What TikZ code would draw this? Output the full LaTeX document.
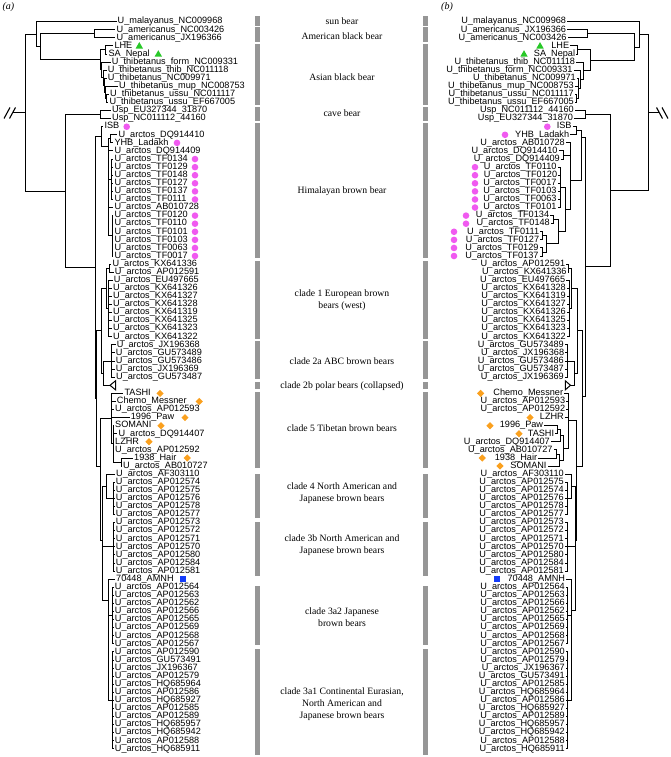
\documentclass[tikz,border=0pt]{standalone}
\usepackage{fontspec}
\setmainfont{Liberation Serif}
\newfontfamily\labfont{Liberation Sans}
\usetikzlibrary{shapes.geometric}
\definecolor{bargray}{RGB}{150,150,150}
\definecolor{dotpink}{RGB}{240,90,240}
\definecolor{trigreen}{RGB}{40,200,40}
\definecolor{diaorange}{RGB}{250,160,30}
\definecolor{sqblue}{RGB}{20,60,250}
\begin{document}
\begin{tikzpicture}[x=1pt,y=-1pt,
  lab/.style={font=\labfont\fontsize{9.15}{10}\selectfont, inner xsep=1pt, inner ysep=0pt, text height=6.4pt, text depth=1.9pt},
  edge/.style={line width=1pt, line join=miter},
  midlab/.style={font=\fontsize{9.7}{11.7}\selectfont, align=center, inner sep=0pt},
  dotm/.style={circle, fill=dotpink, minimum size=6.6pt, inner sep=0pt, draw=none},
  trim/.style={regular polygon, regular polygon sides=3, fill=trigreen, minimum size=8.6pt, inner sep=0pt, draw=none},
  diam/.style={diamond, fill=diaorange, minimum width=7.4pt, minimum height=7.4pt, inner sep=0pt, draw=none},
  sqm/.style={rectangle, fill=sqblue, minimum size=6.2pt, inner sep=0pt, draw=none},
  bar/.style={fill=bargray, draw=none}]
\useasboundingbox (0,0) rectangle (671,757);

% panel letters
\node[font=\fontsize{10}{12}\selectfont\itshape, inner sep=0pt] (pa) at (8.5,7.5) {(a)};
\node[font=\fontsize{10}{12}\selectfont\itshape, inner sep=0pt] (pb) at (447,7.5) {(b)};

% ---------------- left leaves ----------------
\foreach \n/\s/\x/\t in {
a1/1/117.5/U\_malayanus\_NC009968, a2/2/116.3/U\_americanus\_NC003426, a3/3/116.3/U\_americanus\_JX196366,
a4/4/114.3/LHE, a5/5/108.3/SA\_Nepal, a6/6/111.7/U\_thibetanus\_form\_NC009331,
a7/7/107.7/U\_thibetanus\_thib\_NC011118, a8/8/107.7/U\_thibetanus\_NC009971, a9/9/119/U\_thibetanus\_mup\_NC008753,
a10/10/110/U\_thibetanus\_ussu\_NC011117, a11/11/109.3/U\_thibetanus\_ussu\_EF667005,
a12/12/112/Usp\_EU327344\_31870, a13/13/112/Usp\_NC011112\_44160,
a14/14/104.3/ISB, a15/15/118.3/U\_arctos\_DQ914410, a16/16/114.3/YHB\_Ladakh, a17/17/114.3/U\_arctos\_DQ914409,
a18/18/114.3/U\_arctos\_TF0134, a19/19/114.3/U\_arctos\_TF0129, a20/20/114.3/U\_arctos\_TF0148,
a21/21/114.3/U\_arctos\_TF0127, a22/22/114.3/U\_arctos\_TF0137, a23/23/114.3/U\_arctos\_TF0111,
a24/24/114.3/U\_arctos\_AB010728, a25/25/114.3/U\_arctos\_TF0120, a26/26/114.3/U\_arctos\_TF0110,
a27/27/114.3/U\_arctos\_TF0101, a28/28/114.3/U\_arctos\_TF0103, a29/29/114.3/U\_arctos\_TF0063,
a30/30/114.3/U\_arctos\_TF0017, a31/31/112.3/U\_arctos\_KX641336, a32/32/114.7/U\_arctos\_AP012591,
a33/33/113.7/U\_arctos\_EU497665, a34/34/113/U\_arctos\_KX641326, a35/35/113/U\_arctos\_KX641327,
a36/36/113/U\_arctos\_KX641328, a37/37/113/U\_arctos\_KX641319, a38/38/113/U\_arctos\_KX641325,
a39/39/113/U\_arctos\_KX641323, a40/40/113/U\_arctos\_KX641322, a41/41/116.7/U\_arctos\_JX196368,
a42/42/115.7/U\_arctos\_GU573489, a43/43/115.7/U\_arctos\_GU573486, a44/44/115.7/U\_arctos\_JX196369,
a45/45/116/U\_arctos\_GU573487, a47/47/124.3/TASHI, a48/48/116.7/Chemo\_Messner,
a49/49/115/U\_arctos\_AP012593, a50/50/130.7/1996\_Paw, a51/51/115/SOMANI,
a52/52/118.3/U\_arctos\_DQ914407, a53/53/115/LZHR, a54/54/115/U\_arctos\_AP012592,
a55/55/134/1938\_Hair, a56/56/123/U\_arctos\_AB010727, a57/57/116/U\_arctos\_AF303110,
a58/58/115.7/U\_arctos\_AP012574, a59/59/115.7/U\_arctos\_AP012575, a60/60/115.7/U\_arctos\_AP012576,
a61/61/115.7/U\_arctos\_AP012578, a62/62/115.7/U\_arctos\_AP012577, a63/63/115.7/U\_arctos\_AP012573,
a64/64/115.7/U\_arctos\_AP012572, a65/65/115.7/U\_arctos\_AP012571, a66/66/115.7/U\_arctos\_AP012570,
a67/67/115.7/U\_arctos\_AP012580, a68/68/115.7/U\_arctos\_AP012584, a69/69/115.7/U\_arctos\_AP012581,
a70/70/116/70448\_AMNH, a71/71/114.7/U\_arctos\_AP012564, a72/72/114.7/U\_arctos\_AP012563,
a73/73/114.7/U\_arctos\_AP012562, a74/74/114.7/U\_arctos\_AP012566, a75/75/114.7/U\_arctos\_AP012565,
a76/76/114.7/U\_arctos\_AP012569, a77/77/114.7/U\_arctos\_AP012568, a78/78/114.7/U\_arctos\_AP012567,
a79/79/114.7/U\_arctos\_AP012590, a80/80/114.7/U\_arctos\_GU573491, a81/81/114.7/U\_arctos\_JX196367,
a82/82/114.7/U\_arctos\_AP012579, a83/83/114.7/U\_arctos\_HQ685964, a84/84/114.7/U\_arctos\_AP012586,
a85/85/114.7/U\_arctos\_HQ685927, a86/86/114.7/U\_arctos\_AP012585, a87/87/114.7/U\_arctos\_AP012589,
a88/88/114.7/U\_arctos\_HQ685957, a89/89/114.7/U\_arctos\_HQ685942, a90/90/114.7/U\_arctos\_AP012588,
a91/91/114.7/U\_arctos\_HQ685911}
  \node[lab, anchor=west] (\n) at ({\x-1},{21.7+8.08*(\s-1)}) {\t};

% ---------------- right leaves ----------------
\foreach \n/\s/\x/\t in {
b1/1/566.3/U\_malayanus\_NC009968, b2/2/566.3/U\_americanus\_JX196366, b3/3/566.7/U\_americanus\_NC003426,
b4/4/569.3/LHE, b5/5/575.3/SA\_Nepal, b6/6/575.3/U\_thibetanus\_thib\_NC011118,
b7/7/572.7/U\_thibetanus\_form\_NC009331, b8/8/576/U\_thibetanus\_NC009971, b9/9/574/U\_thibetanus\_mup\_NC008753,
b10/10/574/U\_thibetanus\_ussu\_NC011117, b11/11/574/U\_thibetanus\_ussu\_EF667005,
b12/12/574/Usp\_NC011112\_44160, b13/13/573.3/Usp\_EU327344\_31870,
b14/14/571.7/ISB, b15/15/569.3/YHB\_Ladakh, b16/16/565/U\_arctos\_AB010728,
b17/17/557.7/U\_arctos\_DQ914410, b18/18/560/U\_arctos\_DQ914409, b19/19/556.7/U\_arctos\_TF0110,
b20/20/557.3/U\_arctos\_TF0120, b21/21/556.7/U\_arctos\_TF0017, b22/22/556.7/U\_arctos\_TF0103,
b23/23/556.7/U\_arctos\_TF0063, b24/24/556.7/U\_arctos\_TF0101, b25/25/549.3/U\_arctos\_TF0134,
b26/26/550/U\_arctos\_TF0148, b27/27/539.3/U\_arctos\_TF0111, b28/28/539.3/U\_arctos\_TF0127,
b29/29/538.7/U\_arctos\_TF0129, b30/30/538.7/U\_arctos\_TF0137, b31/31/565.3/U\_arctos\_AP012591,
b32/32/566.7/U\_arctos\_KX641336, b33/33/565.3/U\_arctos\_EU497665, b34/34/566/U\_arctos\_KX641328,
b35/35/566/U\_arctos\_KX641319, b36/36/566/U\_arctos\_KX641327, b37/37/566/U\_arctos\_KX641326,
b38/38/566/U\_arctos\_KX641325, b39/39/566/U\_arctos\_KX641323, b40/40/566/U\_arctos\_KX641322,
b41/41/564/U\_arctos\_GU573489, b42/42/564.3/U\_arctos\_JX196368, b43/43/564/U\_arctos\_GU573486,
b44/44/564/U\_arctos\_GU573487, b45/45/564/U\_arctos\_JX196369, b47/47/563.3/Chemo\_Messner,
b48/48/565.3/U\_arctos\_AP012593, b49/49/565.3/U\_arctos\_AP012592, b50/50/564/LZHR,
b51/51/543.3/1996\_Paw, b52/52/554.3/TASHI, b53/53/550/U\_arctos\_DQ914407,
b54/54/552.7/U\_arctos\_AB010727, b55/55/537.3/1938\_Hair, b56/56/546.7/SOMANI,
b57/57/564/U\_arctos\_AF303110, b58/58/564/U\_arctos\_AP012575, b59/59/564/U\_arctos\_AP012574,
b60/60/564/U\_arctos\_AP012576, b61/61/564/U\_arctos\_AP012578, b62/62/564/U\_arctos\_AP012577,
b63/63/564/U\_arctos\_AP012573, b64/64/564/U\_arctos\_AP012572, b65/65/564/U\_arctos\_AP012571,
b66/66/564/U\_arctos\_AP012570, b67/67/564/U\_arctos\_AP012580, b68/68/564/U\_arctos\_AP012584,
b69/69/564/U\_arctos\_AP012581, b70/70/565.3/70448\_AMNH, b71/71/565/U\_arctos\_AP012564,
b72/72/565/U\_arctos\_AP012563, b73/73/565/U\_arctos\_AP012566, b74/74/565/U\_arctos\_AP012562,
b75/75/565/U\_arctos\_AP012565, b76/76/565/U\_arctos\_AP012569, b77/77/565/U\_arctos\_AP012568,
b78/78/565/U\_arctos\_AP012567, b79/79/565/U\_arctos\_AP012590, b80/80/565/U\_arctos\_AP012579,
b81/81/565/U\_arctos\_JX196367, b82/82/565/U\_arctos\_GU573491, b83/83/565/U\_arctos\_AP012585,
b84/84/565/U\_arctos\_HQ685964, b85/85/565/U\_arctos\_AP012586, b86/86/565/U\_arctos\_HQ685927,
b87/87/565/U\_arctos\_AP012589, b88/88/565/U\_arctos\_HQ685957, b89/89/565/U\_arctos\_HQ685942,
b90/90/565/U\_arctos\_AP012588, b91/91/565/U\_arctos\_HQ685911}
  \node[lab, anchor=east] (\n) at ({\x+1},{21.7+8.08*(\s-1)}) {\t};

% ---------------- left internal nodes ----------------
\foreach \n/\x/\y in {LR/25/112.75, LA/36/34.3, LB/40.7/46.9, LAm/94.3/33.8, LAs/100/60,
  LLN/105.3/50, LT/101.5/69.9, LT2/103/77.8, LT3/104/85.3, LT4/105.5/92.4, LT5/106.5/98.45,
  LC/65/191.2, LUsp/100/114.65, LD/95/267.7, LH1/101/136.6, LH2/108/146.5, Lh3/110.5/138.85,
  Lh5/111.5/179.3, Lh6/112/235.8, LE/96.7/398.8, Lc12/101.7/330.8, Lc1/106.5/288.4,
  Lc1a/109.3/268.2, Lc1b/108.3/308.6, Lc2/103/373.2, Lc2a/111/361.1, Ltri/110/385.3,
  LG/100/466.7, Lc5/111/418.6, Lc5b/113/443.9, Lh38/121/462.1, Lc43a/102.5/540,
  Lc4/106/486.3, Lc4b/113/498.5, Lc3b/113/546.9, Lc3a/108.3/600, Lc3a2/112/615.6, Lc3a1/112/700.5}
  \coordinate (\n) at (\x,\y);

% ---------------- right internal nodes ----------------
\foreach \n/\x/\y in {RR/648/112.6, RA/639/34.4, RB/634/47.1, RAm/587/33.8, RAs/590/60.35,
  RLN/577/50, RT/583.3/70.7, RT2/580/79.3, RT3/578/88.4, RT4/576.5/98.5,
  RC/610/190.6, RUsp/585/114.65, RD/585/266.7, RHim/581.5/137, Rhi1/576/130.75,
  Rhi2/570/180, Rhi3/563/155.05, Rhi4/565/209.6, Rhi5/560/187.4, Rhi6/553/219.65,
  Rhi7/542.5/235.85, Rhi8/542/252, Rhi9/546/243.9, Rhi10/558/231.8,
  RE/582.5/396.5, Rc12/577/330.8, Rc1/571/288.4, Rc1a/568.5/268.2, Rc1b/569/308.6,
  Rc2/574/373.2, Rc2a/567/361.1, Rtri/570.5/385.3, RG/576/466.7, Rc5/568.5/420,
  Rp1/557/429.75, Rp2/560/435.8, Rp3/556/454.05, Rp4/559/460.1, Rp5/563.5/448,
  Rc43a/575/540, Rc4/571/486.3, Rc4b/567/498.5, Rc3b/567.5/546.9, Rc3a/571.5/610,
  Rc3a2/567.5/615.6, Rc3a1/567.5/700.5}
  \coordinate (\n) at (\x,\y);

% ---------------- left internal edges ----------------
\foreach \p/\c in {LR/LA, LR/LC, LA/LB, LB/LAm, LB/LAs, LAs/LLN, LAs/LT, LT/LT2, LT2/LT3,
  LT3/LT4, LT4/LT5, LC/LUsp, LC/LD, LD/LH1, LD/LE, LH1/LH2, LH2/Lh3, LH2/Lh5, LH2/Lh6,
  LE/Lc12, LE/LG, Lc12/Lc1, Lc12/Lc2, Lc1/Lc1a, Lc1/Lc1b, Lc2/Lc2a, Lc2/Ltri, LG/Lc5,
  LG/Lc43a, Lc5/Lc5b, Lc5b/Lh38, Lc43a/Lc4, Lc43a/Lc3b, Lc43a/Lc3a, Lc4/Lc4b,
  Lc3a/Lc3a2, Lc3a/Lc3a1}
  \draw[edge] (\p) |- (\c);

% ---------------- left leaf edges ----------------
\foreach \p/\c in {LA/a1, LAm/a2, LAm/a3, LLN/a4, LLN/a5, LT/a6, LT2/a7, LT3/a8, LT4/a9,
  LT5/a10, LT5/a11, LUsp/a12, LUsp/a13, LH1/a14, Lh3/a15, Lh3/a16, LH2/a17, LH2/a24,
  Lc1a/a31, Lc1a/a32, Lh38/a55, Lh38/a56, Lc4/a57, Lc3a/a70}
  \draw[edge] (\p) |- (\c.west);
\foreach \i in {18,...,23} \draw[edge] (Lh5) |- (a\i.west);
\foreach \i in {25,...,30} \draw[edge] (Lh6) |- (a\i.west);
\foreach \i in {33,...,40} \draw[edge] (Lc1b) |- (a\i.west);
\foreach \i in {41,...,45} \draw[edge] (Lc2a) |- (a\i.west);
\foreach \i in {47,...,50} \draw[edge] (Lc5) |- (a\i.west);
\foreach \i in {51,...,54} \draw[edge] (Lc5b) |- (a\i.west);
\foreach \i in {58,...,62} \draw[edge] (Lc4b) |- (a\i.west);
\foreach \i in {63,...,69} \draw[edge] (Lc3b) |- (a\i.west);
\foreach \i in {71,...,78} \draw[edge] (Lc3a2) |- (a\i.west);
\foreach \i in {79,...,91} \draw[edge] (Lc3a1) |- (a\i.west);
\draw[edge, fill=white] (Ltri) -- (115.5,380.8) -- (115.5,389.8) -- cycle;

% ---------------- right internal edges ----------------
\foreach \p/\c in {RR/RA, RR/RC, RA/RB, RB/RAm, RB/RAs, RAs/RLN, RAs/RT, RT/RT2, RT2/RT3,
  RT3/RT4, RC/RUsp, RC/RD, RD/RHim, RD/RE, RHim/Rhi1, RHim/Rhi2, Rhi2/Rhi3, Rhi2/Rhi4,
  Rhi4/Rhi5, Rhi4/Rhi10, Rhi10/Rhi6, Rhi10/Rhi9, Rhi9/Rhi7, Rhi9/Rhi8, RE/Rc12, RE/RG,
  Rc12/Rc1, Rc12/Rc2, Rc1/Rc1a, Rc1/Rc1b, Rc2/Rc2a, Rc2/Rtri, RG/Rc5, RG/Rc43a,
  Rc5/Rp5, Rp5/Rp2, Rp5/Rp4, Rp2/Rp1, Rp4/Rp3, Rc43a/Rc4, Rc43a/Rc3b, Rc43a/Rc3a,
  Rc4/Rc4b, Rc3a/Rc3a2, Rc3a/Rc3a1}
  \draw[edge] (\p) |- (\c);

% ---------------- right leaf edges ----------------
\foreach \p/\c in {RA/b1, RAm/b2, RAm/b3, RLN/b4, RLN/b5, RT/b6, RT2/b7, RT3/b8, RT3/b9,
  RT4/b10, RT4/b11, RUsp/b12, RUsp/b13, Rhi1/b14, Rhi1/b15, Rhi2/b16, Rhi3/b17, Rhi3/b18,
  Rhi6/b25, Rhi6/b26, Rhi7/b27, Rhi7/b28, Rhi8/b29, Rhi8/b30, Rc1a/b31, Rc1a/b32,
  Rp1/b51, Rp1/b52, Rp2/b53, Rp3/b54, Rp3/b55, Rp4/b56, Rc4/b57, Rc3a/b70}
  \draw[edge] (\p) |- (\c.east);
\foreach \i in {19,...,24} \draw[edge] (Rhi5) |- (b\i.east);
\foreach \i in {33,...,40} \draw[edge] (Rc1b) |- (b\i.east);
\foreach \i in {41,...,45} \draw[edge] (Rc2a) |- (b\i.east);
\foreach \i in {47,...,50} \draw[edge] (Rc5) |- (b\i.east);
\foreach \i in {58,...,62} \draw[edge] (Rc4b) |- (b\i.east);
\foreach \i in {63,...,69} \draw[edge] (Rc3b) |- (b\i.east);
\foreach \i in {71,...,78} \draw[edge] (Rc3a2) |- (b\i.east);
\foreach \i in {79,...,91} \draw[edge] (Rc3a1) |- (b\i.east);
\draw[edge, fill=white] (Rtri) -- (565.3,380.8) -- (565.3,389.8) -- cycle;

% ---------------- root breaks ----------------
\coordinate (Lbrk) at (13,112.75);
\coordinate (Rbrk) at (659,112.6);
\draw[edge] (Lbrk) -- (LR);
\draw[edge] (RR) -- (Rbrk);
\draw[line width=1.1pt] (4,118.5) -- (10,107.5) (9.5,118.5) -- (15.5,107.5);
\draw[line width=1.1pt] (656.5,107.5) -- (662.5,118.5) (662,107.5) -- (668,118.5);

% ---------------- clade bars ----------------
\foreach \a/\b in {16/26, 27.5/42, 44.5/105, 107/121, 123/257.5, 260.5/338.5, 340.5/378.5,
  381.5/388.5, 392/468, 474/518, 521.5/576, 585.5/645, 649/755}{
  \fill[bar] (255,\a) rectangle (260,\b);
  \fill[bar] (423,\a) rectangle (427.5,\b);
}

% ---------------- clade labels ----------------
\node[midlab] (k1) at (342,21) {sun bear};
\node[midlab] (k2) at (342,36) {American black bear};
\node[midlab] (k3) at (342,77) {Asian black bear};
\node[midlab] (k4) at (342,113) {cave bear};
\node[midlab] (k5) at (342,191) {Himalayan brown bear};
\node[midlab] (k6) at (342,300.5) {clade 1 European brown\\bears (west)};
\node[midlab] (k7) at (342,361) {clade 2a ABC brown bears};
\node[midlab] (k8) at (342,385.7) {clade 2b polar bears (collapsed)};
\node[midlab] (k9) at (342,428) {clade 5 Tibetan brown bears};
\node[midlab] (k10) at (342,493) {clade 4 North American and\\Japanese brown bears};
\node[midlab] (k11) at (342,545) {clade 3b North American and\\Japanese brown bears};
\node[midlab] (k12) at (342,617.5) {clade 3a2 Japanese\\brown bears};
\node[midlab] (k13) at (342,704) {clade 3a1 Continental Eurasian,\\North American and\\Japanese brown bears};

% ---------------- markers, left ----------------
\node[trim] (mLa) at (139.3,46.4) {};
\node[trim] (mLb) at (158.3,54.5) {};
\foreach \n/\x/\s in {dLa/126.7/14, dLb/177/16, dLc/195/18, dLd/195/19, dLe/195/20, dLf/195/21,
  dLg/195/22, dLh/195/23, dLi/195/25, dLj/195/26, dLk/195/27, dLl/195/28, dLm/195/29, dLn/195/30}
  \node[dotm] (\n) at (\x,{21.7+8.08*(\s-1)}) {};
\foreach \n/\x/\s in {eLa/160/47, eLb/199.3/48, eLc/185/50, eLd/161/51, eLe/149/53, eLf/187.3/55}
  \node[diam] (\n) at (\x,{21.7+8.08*(\s-1)}) {};
\node[sqm] (sL) at (183,{21.7+8.08*69}) {};

% ---------------- markers, right ----------------
\node[trim] (mRa) at (540,46.4) {};
\node[trim] (mRb) at (524,54.5) {};
\foreach \n/\x/\s in {dRa/547.3/14, dRb/505/15, dRc/475/19, dRd/475/20, dRe/475/21, dRf/475/22,
  dRg/475/23, dRh/475/24, dRi/466/25, dRj/466/26, dRk/454/27, dRl/454/28, dRm/454/29, dRn/454/30}
  \node[dotm] (\n) at (\x,{21.7+8.08*(\s-1)}) {};
\foreach \n/\x/\s in {eRa/480.7/47, eRb/530/50, eRc/490/51, eRd/519/52, eRe/482.3/55, eRf/500/56}
  \node[diam] (\n) at (\x,{21.7+8.08*(\s-1)}) {};
\node[sqm] (sR) at (496.7,{21.7+8.08*69}) {};
\end{tikzpicture}
\end{document}
